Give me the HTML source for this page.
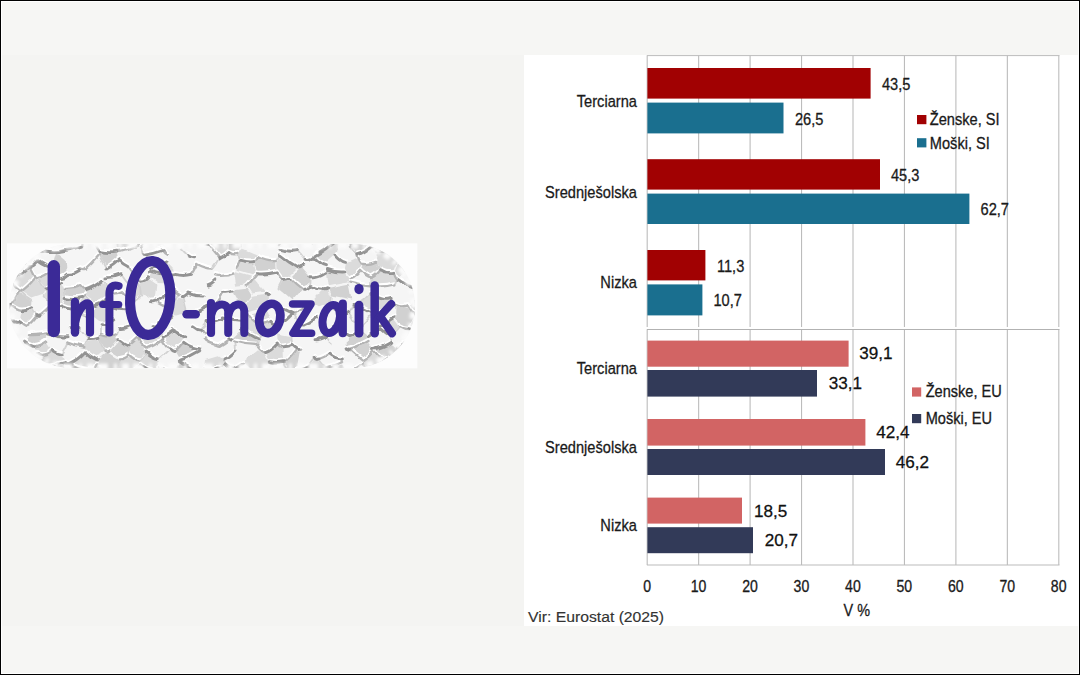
<!DOCTYPE html>
<html lang="sl"><head><meta charset="utf-8"><title>InfO-mozaik</title>
<style>html,body{margin:0;padding:0;background:#f6f6f4;overflow:hidden}body{width:1080px;height:675px;font-family:"Liberation Sans",sans-serif}svg{display:block;font-family:"Liberation Sans",sans-serif}</style></head><body>
<svg width="1080" height="675" viewBox="0 0 1080 675">
<defs>
<clipPath id="pill"><rect x="9.5" y="244.0" width="405.5" height="124.0" rx="62.0" ry="62.0"/></clipPath>
<filter id="rough" x="-2%" y="-6%" width="104%" height="112%" color-interpolation-filters="sRGB">
<feTurbulence type="fractalNoise" baseFrequency="0.055 0.085" numOctaves="2" seed="5" result="n"/>
<feDisplacementMap in="SourceGraphic" in2="n" scale="6" xChannelSelector="R" yChannelSelector="G"/>
<feGaussianBlur stdDeviation="0.75"/>
</filter>
<filter id="rim" x="-5%" y="-10%" width="110%" height="120%"><feGaussianBlur stdDeviation="1.6"/></filter>
<filter id="soft2" x="-5%" y="-10%" width="110%" height="120%"><feGaussianBlur stdDeviation="0.45"/></filter>
</defs>
<rect x="0" y="0" width="1080" height="675" fill="#000"/>
<rect x="1" y="1" width="1078" height="673" fill="#fff"/>
<rect x="2" y="2" width="1076" height="671" fill="#f6f6f4"/>
<rect x="2" y="55" width="1076" height="571" fill="#f4f4f2"/>
<rect x="524" y="55" width="555" height="571" fill="#fff"/>
<g id="chart">
<line x1="647.20" y1="55.5" x2="647.20" y2="327" stroke="#bcbcbc" stroke-width="1.1"/>
<line x1="647.20" y1="329.5" x2="647.20" y2="565" stroke="#bcbcbc" stroke-width="1.1"/>
<line x1="698.65" y1="55.5" x2="698.65" y2="327" stroke="#bcbcbc" stroke-width="1.1"/>
<line x1="698.65" y1="329.5" x2="698.65" y2="565" stroke="#bcbcbc" stroke-width="1.1"/>
<line x1="750.10" y1="55.5" x2="750.10" y2="327" stroke="#bcbcbc" stroke-width="1.1"/>
<line x1="750.10" y1="329.5" x2="750.10" y2="565" stroke="#bcbcbc" stroke-width="1.1"/>
<line x1="801.55" y1="55.5" x2="801.55" y2="327" stroke="#bcbcbc" stroke-width="1.1"/>
<line x1="801.55" y1="329.5" x2="801.55" y2="565" stroke="#bcbcbc" stroke-width="1.1"/>
<line x1="853.00" y1="55.5" x2="853.00" y2="327" stroke="#bcbcbc" stroke-width="1.1"/>
<line x1="853.00" y1="329.5" x2="853.00" y2="565" stroke="#bcbcbc" stroke-width="1.1"/>
<line x1="904.45" y1="55.5" x2="904.45" y2="327" stroke="#bcbcbc" stroke-width="1.1"/>
<line x1="904.45" y1="329.5" x2="904.45" y2="565" stroke="#bcbcbc" stroke-width="1.1"/>
<line x1="955.90" y1="55.5" x2="955.90" y2="327" stroke="#bcbcbc" stroke-width="1.1"/>
<line x1="955.90" y1="329.5" x2="955.90" y2="565" stroke="#bcbcbc" stroke-width="1.1"/>
<line x1="1007.35" y1="55.5" x2="1007.35" y2="327" stroke="#bcbcbc" stroke-width="1.1"/>
<line x1="1007.35" y1="329.5" x2="1007.35" y2="565" stroke="#bcbcbc" stroke-width="1.1"/>
<line x1="1058.80" y1="55.5" x2="1058.80" y2="327" stroke="#bcbcbc" stroke-width="1.1"/>
<line x1="1058.80" y1="329.5" x2="1058.80" y2="565" stroke="#bcbcbc" stroke-width="1.1"/>
<line x1="646.90" y1="55.6" x2="1059.50" y2="55.6" stroke="#bcbcbc" stroke-width="1"/>
<line x1="646.90" y1="329.5" x2="1059.50" y2="329.5" stroke="#b2b2b2" stroke-width="1.1"/>
<line x1="646.90" y1="565" x2="1059.50" y2="565" stroke="#bcbcbc" stroke-width="1.2"/>
<rect x="647.40" y="68.0" width="223.20" height="30.60" fill="#a10102"/>
<rect x="647.40" y="102.6" width="136.10" height="30.80" fill="#1a6f8f"/>
<rect x="647.40" y="159.2" width="232.60" height="30.40" fill="#a10102"/>
<rect x="647.40" y="193.6" width="322.00" height="30.40" fill="#1a6f8f"/>
<rect x="647.40" y="250.0" width="58.00" height="30.40" fill="#a10102"/>
<rect x="647.40" y="284.4" width="55.00" height="31.00" fill="#1a6f8f"/>
<rect x="647.40" y="340.6" width="201.20" height="26.10" fill="#d26464"/>
<rect x="647.40" y="370.0" width="169.60" height="26.60" fill="#323a58"/>
<rect x="647.40" y="419.0" width="218.00" height="26.60" fill="#d26464"/>
<rect x="647.40" y="449.0" width="237.60" height="26.00" fill="#323a58"/>
<rect x="647.40" y="497.6" width="94.60" height="26.00" fill="#d26464"/>
<rect x="647.40" y="527.2" width="105.60" height="26.00" fill="#323a58"/>
<text transform="translate(881.90 90.00) scale(0.865 1)" font-size="16.9" text-anchor="start" fill="#1a1a1a" stroke="#1a1a1a" stroke-width="0.3" >43,5</text>
<text transform="translate(794.90 124.60) scale(0.865 1)" font-size="16.9" text-anchor="start" fill="#1a1a1a" stroke="#1a1a1a" stroke-width="0.3" >26,5</text>
<text transform="translate(890.90 181.00) scale(0.865 1)" font-size="16.9" text-anchor="start" fill="#1a1a1a" stroke="#1a1a1a" stroke-width="0.3" >45,3</text>
<text transform="translate(980.50 215.40) scale(0.865 1)" font-size="16.9" text-anchor="start" fill="#1a1a1a" stroke="#1a1a1a" stroke-width="0.3" >62,7</text>
<text transform="translate(716.90 272.00) scale(0.865 1)" font-size="16.9" text-anchor="start" fill="#1a1a1a" stroke="#1a1a1a" stroke-width="0.3" >11,3</text>
<text transform="translate(713.40 306.40) scale(0.865 1)" font-size="16.9" text-anchor="start" fill="#1a1a1a" stroke="#1a1a1a" stroke-width="0.3" >10,7</text>
<text transform="translate(859.30 359.40) scale(1.097 1)" font-size="15.6" text-anchor="start" fill="#111" stroke="#111" stroke-width="0.25" >39,1</text>
<text transform="translate(828.70 389.40) scale(1.097 1)" font-size="15.6" text-anchor="start" fill="#111" stroke="#111" stroke-width="0.25" >33,1</text>
<text transform="translate(876.30 438.40) scale(1.097 1)" font-size="15.6" text-anchor="start" fill="#111" stroke="#111" stroke-width="0.25" >42,4</text>
<text transform="translate(895.70 468.00) scale(1.097 1)" font-size="15.6" text-anchor="start" fill="#111" stroke="#111" stroke-width="0.25" >46,2</text>
<text transform="translate(754.10 516.60) scale(1.097 1)" font-size="15.6" text-anchor="start" fill="#111" stroke="#111" stroke-width="0.25" >18,5</text>
<text transform="translate(764.70 546.00) scale(1.097 1)" font-size="15.6" text-anchor="start" fill="#111" stroke="#111" stroke-width="0.25" >20,7</text>
<text transform="translate(636.90 107.00) scale(0.865 1)" font-size="16.9" text-anchor="end" fill="#1a1a1a" stroke="#1a1a1a" stroke-width="0.3" >Terciarna</text>
<text transform="translate(636.90 198.00) scale(0.865 1)" font-size="16.9" text-anchor="end" fill="#1a1a1a" stroke="#1a1a1a" stroke-width="0.3" >Srednješolska</text>
<text transform="translate(636.90 288.40) scale(0.865 1)" font-size="16.9" text-anchor="end" fill="#1a1a1a" stroke="#1a1a1a" stroke-width="0.3" >Nizka</text>
<text transform="translate(636.90 374.40) scale(0.865 1)" font-size="16.9" text-anchor="end" fill="#1a1a1a" stroke="#1a1a1a" stroke-width="0.3" >Terciarna</text>
<text transform="translate(636.90 452.60) scale(0.865 1)" font-size="16.9" text-anchor="end" fill="#1a1a1a" stroke="#1a1a1a" stroke-width="0.3" >Srednješolska</text>
<text transform="translate(636.90 531.40) scale(0.865 1)" font-size="16.9" text-anchor="end" fill="#1a1a1a" stroke="#1a1a1a" stroke-width="0.3" >Nizka</text>
<text transform="translate(647.10 592.00) scale(0.87 1)" font-size="16.2" text-anchor="middle" fill="#1a1a1a" stroke="#1a1a1a" stroke-width="0.3" >0</text>
<text transform="translate(698.55 592.00) scale(0.87 1)" font-size="16.2" text-anchor="middle" fill="#1a1a1a" stroke="#1a1a1a" stroke-width="0.3" >10</text>
<text transform="translate(750.00 592.00) scale(0.87 1)" font-size="16.2" text-anchor="middle" fill="#1a1a1a" stroke="#1a1a1a" stroke-width="0.3" >20</text>
<text transform="translate(801.45 592.00) scale(0.87 1)" font-size="16.2" text-anchor="middle" fill="#1a1a1a" stroke="#1a1a1a" stroke-width="0.3" >30</text>
<text transform="translate(852.90 592.00) scale(0.87 1)" font-size="16.2" text-anchor="middle" fill="#1a1a1a" stroke="#1a1a1a" stroke-width="0.3" >40</text>
<text transform="translate(904.35 592.00) scale(0.87 1)" font-size="16.2" text-anchor="middle" fill="#1a1a1a" stroke="#1a1a1a" stroke-width="0.3" >50</text>
<text transform="translate(955.80 592.00) scale(0.87 1)" font-size="16.2" text-anchor="middle" fill="#1a1a1a" stroke="#1a1a1a" stroke-width="0.3" >60</text>
<text transform="translate(1007.25 592.00) scale(0.87 1)" font-size="16.2" text-anchor="middle" fill="#1a1a1a" stroke="#1a1a1a" stroke-width="0.3" >70</text>
<text transform="translate(1058.70 592.00) scale(0.87 1)" font-size="16.2" text-anchor="middle" fill="#1a1a1a" stroke="#1a1a1a" stroke-width="0.3" >80</text>
<text transform="translate(856.80 616.30) scale(0.85 1)" font-size="17.0" text-anchor="middle" fill="#1a1a1a" stroke="#1a1a1a" stroke-width="0.3" >V %</text>
<rect x="917" y="115" width="9.4" height="9.2" fill="#a10102"/>
<text transform="translate(929.80 125.40) scale(0.865 1)" font-size="16.9" text-anchor="start" fill="#1a1a1a" stroke="#1a1a1a" stroke-width="0.3" >Ženske, SI</text>
<rect x="917" y="138.2" width="9.4" height="9.2" fill="#1a6f8f"/>
<text transform="translate(929.80 149.00) scale(0.865 1)" font-size="16.9" text-anchor="start" fill="#1a1a1a" stroke="#1a1a1a" stroke-width="0.3" >Moški, SI</text>
<rect x="912" y="387.4" width="9.2" height="9.2" fill="#d26464"/>
<text transform="translate(925.70 397.30) scale(0.91 1)" font-size="16.0" text-anchor="start" fill="#1a1a1a" stroke="#1a1a1a" stroke-width="0.3" >Ženske, EU</text>
<rect x="912" y="414" width="9.2" height="9.2" fill="#323a58"/>
<text transform="translate(925.70 423.90) scale(0.91 1)" font-size="16.0" text-anchor="start" fill="#1a1a1a" stroke="#1a1a1a" stroke-width="0.3" >Moški, EU</text>
<text transform="translate(528.00 622.40) scale(1.05 1)" font-size="15.0" text-anchor="start" fill="#333" stroke="#333" stroke-width="0.15" >Vir: Eurostat (2025)</text>
</g>
<g id="logo">
<rect x="7" y="243.3" width="410.3" height="125" fill="#fdfdfd"/>
<g clip-path="url(#pill)"><g filter="url(#rough)">
<rect x="3.5" y="238.0" width="417.5" height="136.0" fill="#f5f5f5"/>
<path d="M18.9 242.5 L10.6 233.4 L14.1 229.4 L30.2 230.4 L30.8 235.6ZM68.8 230.0 L57.2 240.7 L50.1 234.5 L48.9 223.7 L68.6 229.7ZM100.0 234.5 L85.5 221.9 L75.0 231.5 L83.5 242.4 L94.7 241.7ZM165.1 227.6 L154.2 230.4 L154.0 234.9 L164.1 240.0 L171.4 234.3ZM310.1 228.0 L315.0 227.0 L325.5 231.9 L313.8 240.6 L307.9 238.3ZM337.2 238.8 L334.7 232.2 L340.1 223.7 L357.6 229.1 L360.3 235.3 L349.6 243.5 L338.4 240.2ZM18.8 250.0 L19.2 244.8 L31.1 237.9 L36.1 241.9 L37.3 248.3 L19.8 251.9ZM118.3 250.7 L118.1 250.6 L117.1 240.1 L132.4 236.8 L137.2 245.1ZM209.2 243.9 L219.8 255.3 L226.6 251.2 L226.9 240.2 L215.3 238.1ZM388.0 239.9 L387.1 248.8 L377.3 250.1 L372.1 245.9 L371.6 241.0 L373.1 239.5ZM424.6 235.2 L428.0 235.5 L430.4 241.0 L424.2 251.4 L406.2 245.4 L406.1 239.5ZM5.1 265.8 L4.2 265.5 L-6.6 250.1 L-6.5 249.8 L-6.2 249.6 L17.7 251.9 L18.7 253.8 L18.6 257.3ZM257.2 254.7 L242.4 248.5 L238.8 254.3 L240.5 260.2 L254.4 261.4 L257.5 256.9ZM315.1 256.4 L326.5 263.1 L335.6 255.1 L337.5 243.8 L336.3 242.4 L315.6 255.2ZM377.8 253.2 L376.5 261.4 L381.0 267.7 L392.4 269.8 L397.4 257.0 L397.4 256.6 L387.6 251.9ZM173.8 273.4 L173.0 267.9 L168.1 262.8 L151.3 268.6 L151.3 271.0 L173.6 273.7ZM236.5 268.3 L240.5 263.0 L254.3 264.2 L256.2 273.1 L254.4 275.6 L253.9 275.8 L236.4 270.5ZM276.2 262.7 L276.7 271.4 L282.2 277.4 L289.5 276.4 L297.7 268.2 L279.7 257.8ZM344.4 271.0 L345.9 263.4 L356.4 258.5 L360.3 264.3 L359.5 269.4 L349.8 276.6ZM398.2 259.1 L418.5 267.0 L418.4 267.5 L398.2 277.5 L397.0 277.5 L393.2 271.9ZM21.1 288.2 L19.6 288.2 L12.6 282.0 L12.2 279.8 L28.8 269.4 L28.9 269.5 L34.1 277.9ZM45.3 287.9 L60.1 281.7 L60.3 278.0 L52.7 271.2 L37.4 278.4ZM173.4 275.5 L151.0 272.7 L149.1 277.1 L157.1 282.9 L171.0 283.7ZM236.1 272.2 L253.6 277.5 L246.5 284.4 L236.1 285.7 L234.4 274.5ZM348.6 282.2 L328.7 286.2 L327.1 273.6 L328.0 271.1 L343.8 273.2 L349.1 278.8 L348.9 281.7ZM371.3 284.0 L393.8 283.2 L396.0 279.1 L392.3 273.5 L380.9 271.4 L372.2 277.7ZM44.5 289.7 L36.6 280.2 L34.7 279.8 L21.7 290.1 L32.1 297.4 L43.2 293.7ZM45.5 291.0 L60.4 284.8 L64.3 290.1 L64.8 296.9 L61.7 303.8 L52.3 302.5 L44.3 295.0ZM103.9 282.8 L101.5 282.6 L85.1 290.3 L85.1 295.2 L95.4 302.9 L107.0 298.0 L108.5 293.0ZM121.9 291.4 L132.2 300.0 L140.7 293.8 L139.2 285.4 L129.3 286.1ZM151.2 299.2 L154.8 298.6 L156.5 285.0 L148.4 279.3 L141.6 282.8 L139.9 284.9 L141.5 293.4ZM266.0 291.8 L254.8 278.7 L254.3 278.9 L247.2 285.8 L251.8 293.5ZM81.8 299.3 L84.5 298.1 L94.8 305.8 L90.5 313.6 L86.5 314.9 L77.4 308.4ZM183.1 298.8 L187.1 312.6 L176.0 315.5 L172.2 314.8 L167.3 307.0 L179.8 297.7ZM266.2 295.0 L269.1 296.2 L269.0 301.8 L266.0 305.8 L248.7 311.0 L245.3 306.3 L252.1 296.7ZM329.5 296.0 L327.6 290.6 L322.7 291.0 L312.2 302.2 L319.3 306.6 L328.6 303.2ZM357.4 303.5 L370.5 294.1 L377.7 298.4 L371.6 310.4ZM372.8 312.2 L375.4 313.3 L394.4 305.6 L394.7 305.1 L391.6 300.0 L378.3 299.5 L372.3 311.4ZM22.4 312.0 L31.4 309.5 L36.5 315.7 L26.7 324.1 L20.8 321.0ZM107.3 301.9 L113.5 308.9 L112.4 318.3 L100.2 321.5 L91.4 314.7 L95.7 306.9ZM270.3 320.3 L265.9 308.6 L248.7 313.9 L248.6 314.6 L258.4 322.5ZM257.8 336.4 L258.3 335.8 L258.0 324.8 L248.2 316.9 L243.2 322.7 L242.0 328.0ZM275.7 325.7 L270.8 322.6 L258.8 324.9 L259.1 335.9 L275.2 330.3ZM381.0 325.9 L394.4 319.5 L399.8 326.4 L389.8 334.2 L380.5 328.3ZM418.6 316.3 L427.8 323.3 L425.5 329.3 L410.4 327.4 L415.2 316.5ZM139.0 337.5 L147.3 346.1 L161.7 339.0 L161.7 337.6 L155.0 327.9 L153.1 327.5ZM184.1 337.0 L173.7 332.9 L162.7 338.6 L162.8 340.1 L170.1 347.7 L174.9 349.4 L183.2 342.1ZM292.0 343.5 L290.7 337.1 L277.2 334.4 L277.6 343.3 L282.9 345.5ZM-2.2 359.2 L-7.1 360.5 L-14.2 350.3 L-8.2 342.3 L8.2 350.8ZM47.0 342.7 L51.7 350.4 L42.8 354.4 L37.3 352.5 L34.6 347.0ZM97.2 357.6 L104.8 350.9 L97.6 339.4 L88.4 340.4 L84.6 346.8 L85.4 351.1ZM138.0 339.9 L138.3 339.9 L146.5 348.5 L145.8 351.2 L139.6 358.1 L129.1 353.1 L128.7 346.2ZM282.5 348.1 L277.1 345.9 L266.1 352.7 L269.6 360.8 L282.9 360.9ZM406.5 360.7 L408.1 361.2 L418.5 349.9 L408.7 342.2 L396.9 348.0 L397.2 352.7ZM14.5 351.3 L9.0 352.2 L-1.4 360.6 L12.6 371.7 L20.4 361.4ZM43.2 356.2 L52.2 352.2 L60.7 355.3 L64.0 362.5 L42.3 365.7ZM92.9 368.1 L96.7 363.9 L96.8 360.5 L85.1 354.0 L70.5 363.4 L72.4 364.2ZM128.7 356.8 L139.2 361.7 L139.7 365.1 L133.6 372.0 L129.1 374.2 L118.8 373.6 L119.5 360.0ZM140.7 364.4 L140.2 360.9 L146.4 354.0 L158.7 359.6 L158.3 366.0 L152.2 369.1ZM217.7 356.3 L205.1 360.0 L203.8 367.0 L219.0 367.7 L223.8 364.3 L222.7 359.7ZM258.0 350.2 L265.2 354.4 L268.7 362.5 L263.2 370.7 L256.0 372.9 L244.2 363.1 L244.3 361.1ZM373.5 353.8 L382.6 362.0 L383.1 369.6 L373.5 373.6 L363.3 363.6 L363.9 361.3ZM433.3 363.0 L430.5 367.3 L410.6 366.0 L408.9 362.8 L419.3 351.5 L423.0 351.2ZM-2.0 362.8 L-6.9 364.1 L-9.2 367.5 L-5.8 375.8 L-3.7 376.7 L11.8 374.9 L12.0 374.0ZM36.1 372.8 L22.6 393.7 L12.9 375.6 L13.1 374.7 L20.9 364.4 L26.0 365.6ZM38.1 371.8 L50.8 378.8 L63.6 369.1 L64.4 365.1 L64.1 364.7 L42.4 367.9ZM92.9 369.9 L72.3 366.1 L82.2 376.9 L92.0 374.2ZM93.7 370.4 L97.4 366.2 L116.9 375.4 L113.9 380.1 L93.7 376.7 L92.8 374.7ZM218.6 370.2 L219.4 379.8 L203.1 380.8 L200.5 376.2 L200.6 372.8 L203.4 369.4ZM325.6 367.8 L325.2 376.3 L320.4 377.4 L312.3 375.5 L308.5 367.3 L315.4 359.6 L318.9 361.1ZM253.7 1047.2 L250.8 456.8 L256.2 447.5 L263.4 445.3 L273.5 453.0 L276.9 906.7 L260.7 1390.8Z" fill="#dbdbdb"/>
<path d="M36.7 238.5 L49.1 234.0 L48.0 223.1 L41.1 213.6 L31.1 229.3 L31.7 234.5ZM262.9 240.0 L244.4 231.2 L246.1 226.4 L268.8 228.8 L268.4 238.6ZM227.7 240.1 L241.0 236.2 L241.7 246.4 L238.2 252.1 L227.4 251.1ZM361.1 237.3 L370.8 241.1 L371.3 245.9 L357.0 252.8 L350.5 245.5ZM117.5 253.0 L117.4 253.0 L100.4 252.7 L100.4 254.6 L107.0 266.5 L119.1 259.1ZM53.1 267.9 L52.9 266.6 L57.3 253.9 L57.8 253.5 L59.1 253.7 L65.8 259.2 L66.5 271.9 L60.7 274.6ZM275.2 262.0 L275.7 270.7 L257.0 272.1 L255.2 263.2 L258.3 258.8ZM371.5 275.7 L380.2 269.5 L375.7 263.2 L361.1 264.6 L360.4 269.6ZM298.6 270.2 L302.7 267.9 L310.4 277.1 L309.7 284.4 L303.9 287.2 L302.2 287.1 L290.5 278.4ZM81.4 296.5 L84.0 295.3 L84.1 290.4 L80.1 287.4 L65.3 289.7 L65.8 296.5ZM251.2 295.4 L244.5 305.1 L241.4 303.7 L233.5 291.9 L236.1 289.0 L246.5 287.8ZM282.5 281.1 L289.8 280.0 L301.5 288.8 L292.6 299.3 L279.1 287.5ZM351.2 298.4 L330.2 294.6 L328.3 289.2 L328.6 288.8 L348.6 284.8ZM10.8 304.3 L10.9 303.5 L19.5 292.6 L21.0 292.6 L31.4 300.0 L31.1 306.4 L22.1 308.9ZM81.0 298.6 L65.4 298.6 L62.3 305.5 L62.6 305.9 L76.6 307.8ZM418.5 313.0 L426.5 308.5 L422.1 299.1 L417.4 297.0 L408.4 305.4 L415.2 313.2ZM395.5 307.6 L395.7 307.1 L407.6 307.5 L414.4 315.3 L409.6 326.2 L409.0 326.6 L400.5 324.3 L395.1 317.5ZM16.3 344.2 L14.2 347.5 L8.6 348.3 L-7.8 339.8 L-8.6 334.3 L-6.2 330.9 L10.4 335.8ZM46.5 333.6 L28.5 334.9 L25.2 340.4 L34.4 344.8 L46.7 340.5 L47.0 334.5ZM117.0 335.7 L117.5 339.9 L109.2 349.4 L105.6 349.7 L98.4 338.1 L100.4 335.6ZM233.1 338.5 L241.7 330.2 L257.5 338.6 L256.7 343.7 L234.8 340.9ZM359.7 330.3 L367.9 336.8 L368.0 340.5 L349.9 346.9 L347.6 346.7 L348.0 336.3 L359.4 330.2ZM118.1 341.6 L109.8 351.1 L119.1 356.7 L128.2 353.5 L127.8 346.6ZM183.9 344.0 L175.7 351.3 L179.7 358.3 L199.2 350.7 L199.2 349.0ZM373.1 349.6 L368.4 342.9 L350.3 349.3 L363.5 358.6 L373.1 351.0ZM374.1 349.7 L390.5 343.9 L395.9 347.6 L396.2 352.3 L383.2 359.3 L374.1 351.1ZM97.8 363.9 L117.3 373.1 L117.7 372.9 L118.5 359.2 L109.2 353.6 L105.6 353.9 L98.0 360.6ZM297.5 350.6 L299.8 350.9 L297.0 366.9 L291.7 369.3 L284.9 362.6ZM384.0 369.6 L383.5 362.0 L396.5 355.0 L405.8 363.0 L386.0 370.5ZM172.9 372.8 L158.9 369.3 L152.8 372.4 L155.7 390.1 L157.0 392.7 L173.0 375.3ZM199.4 372.4 L179.7 364.0 L174.1 371.6 L174.1 374.1 L183.0 380.1 L199.4 375.8ZM342.0 364.5 L348.1 372.4 L347.9 374.9 L340.7 386.9 L326.3 377.3 L326.7 368.7Z" fill="#d1d1d1"/>
<path d="M409.9 328.6Q417.8 331.8 425.8 331.0M396.8 352.8Q389.9 359.2 383.1 361.5M385.7 372.1Q384.7 374.3 383.7 371.0M396.4 346.8Q402.6 346.0 408.8 339.6M373.5 376.0Q378.6 375.3 383.7 371.0M243.5 363.3Q238.4 367.2 233.2 369.2M255.9 375.6Q259.7 376.8 263.5 372.8M308.0 366.8Q302.5 369.8 297.1 368.6M297.1 368.6Q294.3 370.9 291.5 371.6M436.0 284.1Q426.8 288.4 417.6 288.2M397.9 279.4Q407.3 286.7 416.8 289.1M371.2 240.2Q366.1 240.7 361.0 235.5M371.8 246.3Q364.2 252.6 356.7 254.9M37.1 260.9Q44.8 267.0 52.6 267.6M39.2 250.5Q48.2 251.9 57.2 251.6M152.3 370.8Q146.3 369.8 140.2 364.9M159.2 358.9Q152.7 358.1 146.3 352.0M158.8 366.9Q155.6 371.0 152.3 370.8M179.4 361.8Q189.8 369.2 200.2 372.3M170.0 349.3Q172.5 351.5 175.0 351.5M158.8 366.9Q166.1 371.2 173.5 371.3M380.7 269.7Q386.7 273.7 392.7 272.3M397.9 255.9Q392.8 254.7 387.6 249.9M282.8 346.7Q287.6 346.4 292.4 344.1M292.4 344.1Q295.0 346.9 297.7 348.2M269.3 362.6Q276.3 364.2 283.3 362.7M265.6 352.5Q271.4 350.7 277.2 344.0M315.2 357.2Q317.1 360.4 318.9 359.0M417.4 294.8Q419.8 297.4 422.3 297.4M426.9 309.1Q422.7 313.0 418.5 314.8M415.0 314.9Q416.8 317.6 418.5 314.8M336.8 239.8Q325.8 249.8 314.9 255.8M326.4 265.7Q320.4 263.8 314.4 257.4M345.5 262.4Q340.7 261.6 336.0 255.7M59.1 251.5Q70.4 250.0 81.7 246.1M31.3 235.9Q25.1 241.1 18.8 244.5M19.3 257.8Q12.2 265.1 5.1 268.4M390.8 342.2Q382.1 347.7 373.5 349.4M342.3 358.9Q335.9 359.3 329.5 353.9M347.1 348.8Q348.3 351.6 349.5 349.0M333.7 326.1Q340.6 332.5 347.6 335.8M314.0 340.7Q320.2 340.7 326.3 336.9M317.5 317.3Q311.3 322.3 305.1 324.9M300.0 322.5Q302.6 325.7 305.1 324.9M310.1 285.8Q316.4 288.9 322.6 289.2M310.1 285.8Q307.0 289.6 303.9 289.3M314.4 257.4Q309.8 261.4 305.1 260.4M313.7 242.4Q310.6 243.6 307.6 239.5M155.1 325.9Q154.1 327.2 153.1 325.4M194.6 257.7Q191.4 257.9 188.2 255.6M159.7 321.5Q165.8 321.8 171.9 316.5M162.2 338.0Q168.0 335.3 173.8 330.8M144.5 254.2Q153.8 252.9 163.1 249.5M168.2 261.2Q159.4 265.8 150.6 268.3M1.9 287.2Q7.0 287.1 12.1 282.7M11.7 279.9Q20.4 275.4 29.1 266.9M37.1 260.9Q33.2 266.1 29.3 267.0M20.8 361.9Q23.5 365.0 26.2 363.4M61.1 354.5Q56.7 353.7 52.2 350.6M64.6 363.5Q53.2 367.1 41.8 367.5M344.0 271.9Q335.7 272.5 327.4 269.4M322.6 289.2Q325.2 290.5 327.8 288.7M310.8 276.7Q318.7 277.6 326.5 272.4M389.8 336.0Q384.9 333.2 380.0 328.6M394.7 317.7Q387.6 323.1 380.5 325.7M380.0 328.6Q374.2 333.5 368.4 336.5M395.0 305.4Q385.0 311.2 375.0 314.9M302.7 265.2Q300.6 268.6 298.4 268.0M292.1 314.4Q280.8 309.8 269.5 301.8M289.8 278.2Q286.0 279.8 282.2 279.5M219.8 257.7Q223.4 256.4 227.0 252.6M204.3 244.2Q206.5 245.3 208.6 243.4M155.2 301.1Q153.3 302.2 151.4 301.8M141.3 281.2Q144.9 281.1 148.5 276.8M128.2 345.8Q123.1 343.8 118.0 339.6M188.1 293.1Q185.8 295.6 183.4 296.6M191.4 274.4Q182.9 276.5 174.3 274.4M156.9 301.5Q165.1 296.9 173.3 289.4M150.5 271.3Q162.3 275.4 174.0 274.8M164.3 241.6Q158.9 239.1 153.6 235.2M88.1 338.5Q93.0 338.9 97.9 337.3M85.0 351.9Q91.2 357.6 97.4 360.1M65.0 363.9Q67.3 365.8 69.7 363.7M85.0 351.9Q77.4 359.9 69.7 363.7M-1.2 295.3Q4.6 301.7 10.4 304.1M100.0 323.8Q106.4 324.4 112.9 319.9M114.0 308.1Q122.1 310.8 130.2 309.2M128.9 326.3Q124.5 329.2 120.2 328.5M66.9 274.2Q73.2 274.8 79.6 270.3M79.0 326.6Q75.2 328.5 71.3 327.8M203.2 368.1Q211.2 371.6 219.2 369.0M179.3 360.2Q189.5 357.1 199.8 350.7M233.2 369.2Q228.7 369.1 224.3 364.7M392.1 298.3Q385.1 300.8 378.1 297.6M371.7 312.6Q364.2 309.3 356.7 303.9M356.7 303.9Q355.4 305.5 354.0 304.2M347.6 335.8Q353.5 334.3 359.5 328.2M339.7 315.5Q344.2 315.4 348.8 312.4M375.0 314.9Q373.6 315.8 372.3 313.6M256.7 273.8Q266.5 274.8 276.3 272.0M269.6 294.8Q268.1 296.8 266.6 293.3M268.9 240.0Q266.0 243.8 263.1 241.8M240.1 261.2Q247.4 263.3 254.7 262.7M297.3 250.5Q289.1 252.4 281.0 249.4M298.4 268.0Q289.0 262.9 279.5 255.0M270.9 321.3Q273.5 324.8 276.1 325.2M292.1 314.4Q284.1 322.1 276.1 325.2M242.8 321.5Q232.5 321.0 222.3 317.9M235.0 350.3Q229.0 357.1 223.0 359.0M206.3 285.0Q210.5 284.0 214.7 279.5M215.7 304.9Q212.7 307.8 209.7 304.7M188.1 293.1Q196.1 296.1 204.1 296.0M233.0 291.0Q228.3 292.9 223.6 292.1M207.5 306.5Q197.8 312.0 188.1 314.1M207.5 306.5Q208.6 306.8 209.7 304.7M207.1 322.5Q214.4 323.5 221.6 320.0M200.4 330.1Q197.0 329.8 193.6 326.8M199.8 348.6Q191.7 348.3 183.7 342.3M173.8 330.8Q179.2 334.7 184.7 335.9M99.9 251.7Q108.8 253.4 117.8 252.1M69.7 363.7Q70.7 366.8 71.7 364.7M84.4 289.8Q93.0 287.5 101.7 280.2M95.3 305.6Q101.4 303.7 107.5 299.4M66.9 274.2Q63.8 277.4 60.8 277.6M62.2 306.6Q69.6 310.4 76.9 308.9M65.2 297.5Q73.4 299.7 81.6 297.4M52.1 304.4Q57.0 308.0 61.9 306.1M24.5 341.0Q29.3 345.1 34.2 346.4M67.0 336.8Q57.2 337.6 47.5 333.6M39.6 316.1Q38.3 316.8 37.0 315.5M241.5 328.2Q249.8 334.7 258.2 338.6M230.0 337.9Q231.2 339.8 232.5 338.5M127.8 265.5Q123.7 263.7 119.6 259.7M106.9 269.0Q113.2 265.5 119.6 259.7M121.4 274.7Q113.7 277.9 105.9 277.9M60.6 282.3Q52.8 288.7 45.0 290.0M13.6 322.3Q17.0 324.6 20.4 322.1M31.6 307.7Q26.9 310.9 22.1 310.9M410.0 367.4Q420.5 370.7 431.0 369.0M396.8 352.8Q401.6 359.1 406.5 362.7M57.1 243.0Q63.2 237.7 69.3 229.5M274.1 382.4Q268.8 379.4 263.5 372.8M362.7 363.5Q355.6 369.1 348.6 372.0M409.3 329.1Q404.8 329.1 400.3 326.2M349.9 245.7Q355.5 241.7 361.0 235.5M140.2 364.9Q137.0 370.6 133.8 373.4M387.6 249.9Q382.4 252.9 377.3 251.5M396.6 279.4Q394.6 277.1 392.7 272.3M419.2 266.3Q408.6 264.2 398.0 256.3M360.7 263.6Q358.6 261.3 356.6 256.3M360.7 263.6Q368.3 265.1 376.0 261.9M405.4 239.1Q415.1 237.9 424.8 233.7M284.4 363.2Q291.0 357.8 297.7 348.2M300.1 348.6Q298.9 350.0 297.7 348.2M277.2 344.0Q280.0 347.9 282.8 346.7M326.0 367.4Q334.1 365.6 342.1 362.1M380.7 269.7Q376.1 275.6 371.6 277.5M359.9 269.9Q365.7 276.1 371.6 277.5M394.3 284.5Q382.5 287.9 370.6 285.5M407.9 305.3Q411.4 311.9 415.0 314.9M395.3 304.7Q401.6 307.9 407.9 305.3M170.0 349.3Q166.1 345.8 162.2 339.8M147.0 348.6Q154.6 345.7 162.2 339.8M10.1 233.2Q14.4 240.5 18.8 244.5M12.6 374.7Q5.3 370.0 -2.1 360.9M139.7 360.6Q134.2 360.1 128.6 354.4M119.0 358.4Q123.8 358.6 128.6 354.4M363.4 360.7Q356.4 355.5 349.5 349.0M363.4 360.7Q368.5 357.4 373.5 351.2M349.5 349.0Q359.0 346.9 368.5 341.0M383.1 361.5Q378.3 357.0 373.5 351.2M318.9 359.0Q324.2 357.3 329.5 353.9M293.9 314.4Q302.3 310.1 310.8 303.1M300.5 240.6Q304.0 242.2 307.6 239.5M300.5 240.6Q297.3 236.4 294.0 230.3M147.0 348.6Q142.6 344.9 138.3 337.9M194.6 234.8Q187.8 238.7 181.1 239.2M158.5 303.2Q162.7 306.0 166.8 306.8M155.1 325.9Q157.4 325.2 159.7 321.5M163.1 249.5Q165.5 253.1 167.8 253.9M19.3 257.8Q24.2 263.6 29.1 266.9M-6.7 328.6Q2.0 333.3 10.7 334.7M14.7 349.3Q15.8 347.9 16.9 345.3M10.7 334.7Q13.8 340.9 16.9 345.3M37.0 353.3Q39.9 356.9 42.8 355.6M22.6 398.5Q29.7 386.8 36.8 372.4M52.2 350.6Q47.5 355.6 42.8 355.6M359.9 269.9Q354.8 276.8 349.6 279.0M302.2 289.2Q296.0 284.6 289.8 278.2M265.6 352.5Q261.8 352.4 258.1 347.2M219.8 257.7Q214.2 251.7 208.6 243.4M215.1 236.2Q211.9 240.4 208.6 243.4M238.3 253.9Q232.7 255.2 227.0 252.6M134.8 316.4Q132.5 314.1 130.2 309.2M156.9 301.5Q157.7 303.5 158.5 303.2M128.2 345.8Q133.1 342.8 138.0 337.8M179.9 295.1Q176.6 293.5 173.3 289.4M197.1 264.9Q194.3 270.6 191.4 274.4M67.4 342.5Q75.8 346.2 84.2 346.6M105.5 351.8Q107.4 353.5 109.3 351.4M12.1 282.7Q15.8 288.3 19.4 290.4M19.4 290.4Q14.9 298.0 10.4 304.1M100.0 334.1Q108.7 336.6 117.4 334.3M86.6 316.9Q88.7 318.1 90.8 315.3M339.7 315.5Q334.3 310.5 328.9 304.4M349.4 282.6Q359.8 285.7 370.2 286.4M378.1 297.6Q374.4 295.8 370.6 292.3M246.8 285.8Q250.5 282.2 254.2 277.2M256.7 273.8Q255.7 276.1 254.8 277.0M282.2 279.5Q279.2 276.7 276.3 272.0M258.0 257.2Q266.9 261.9 275.8 261.1M254.7 262.7Q256.3 260.6 258.0 257.2M258.4 324.2Q264.6 324.4 270.9 321.3M248.1 314.3Q253.2 321.4 258.4 324.2M215.2 275.4Q224.6 277.1 234.0 273.4M197.1 264.9Q205.0 269.3 212.8 269.7M240.1 261.2Q238.0 265.7 236.0 267.9M223.6 292.1Q219.7 299.6 215.7 304.9M200.4 330.1Q202.3 334.1 204.2 335.2M218.2 345.7Q224.1 342.6 230.0 337.9M218.2 345.7Q211.5 344.3 204.8 339.4M175.0 351.5Q179.4 348.8 183.7 342.3M95.1 243.5Q97.5 249.0 99.9 251.7M82.0 378.2Q76.8 373.2 71.7 364.7M71.7 364.7Q82.5 369.6 93.3 369.5M97.2 364.2Q95.3 368.7 93.3 369.5M80.7 269.1Q83.1 270.8 85.4 269.5M99.9 254.2Q92.6 263.2 85.4 269.5M80.3 286.1Q82.4 288.8 84.4 289.8M80.3 286.1Q72.5 289.4 64.7 288.9M52.1 304.4Q45.9 311.3 39.6 316.1M84.4 295.9Q83.0 299.4 81.6 297.4M28.0 334.1Q37.4 334.5 46.9 332.5M34.2 346.4Q40.7 345.9 47.2 341.1M26.7 326.0Q31.8 322.6 37.0 315.5M257.4 345.0Q245.8 345.0 234.3 341.5M137.8 245.2Q127.9 251.1 117.9 252.2M153.6 235.2Q147.0 242.1 140.4 247.4M144.5 254.2Q143.7 255.5 142.8 253.0M141.3 281.2Q134.5 275.1 127.8 265.9M109.1 293.2Q115.2 294.7 121.3 291.5M132.2 302.2Q126.7 298.5 121.3 291.5M34.7 277.6Q27.8 286.0 21.0 290.5M34.7 277.6Q35.7 280.3 36.6 278.1M29.3 267.0Q32.0 272.7 34.7 277.6M52.8 269.2Q44.7 276.1 36.6 278.1M13.6 322.3Q8.7 319.0 3.9 314.4M22.1 310.9Q16.2 310.3 10.3 305.1M3.9 314.4Q7.1 310.8 10.3 305.1M26.7 326.0Q23.6 325.8 20.4 322.1" fill="none" stroke="#ffffff" stroke-width="3" stroke-linecap="round" transform="translate(0 -1.8)"/>
<path d="M410.0 367.4Q409.3 373.4 408.6 379.1M408.2 363.4Q413.7 358.0 419.2 349.3M408.2 363.4Q409.1 365.9 410.0 367.4M408.8 339.6Q414.0 345.7 419.2 349.3M396.4 346.8Q396.6 349.9 396.8 352.8M392.3 380.9Q389.0 377.1 385.7 372.1M308.0 366.8Q311.6 362.5 315.2 357.2M373.5 376.0Q368.1 371.8 362.7 363.5M390.8 342.2Q390.3 339.6 389.8 336.0M400.3 326.2Q395.1 333.1 389.8 336.0M424.9 257.6Q422.0 262.9 419.2 266.3M356.7 254.9Q353.3 251.1 349.9 245.7M57.2 251.6Q54.9 259.9 52.6 267.6M152.3 370.8Q153.9 382.1 155.4 393.0M146.3 352.0Q143.0 358.0 139.7 360.6M200.2 376.6Q200.2 374.4 200.2 372.3M170.0 349.3Q164.6 354.9 159.2 358.9M380.7 269.7Q378.3 266.4 376.0 261.9M371.8 246.3Q374.5 250.2 377.3 251.5M405.4 246.4Q401.7 252.4 397.9 255.9M291.5 371.6Q287.9 368.2 284.4 363.2M291.1 336.2Q291.7 340.3 292.4 344.1M318.9 359.0Q322.5 364.2 326.0 367.4M394.3 284.5Q395.4 283.1 396.6 279.4M371.6 277.5Q371.1 281.8 370.6 285.5M395.3 304.7Q393.7 302.0 392.1 298.3M428.2 323.5Q423.4 319.8 418.5 314.8M74.3 230.8Q78.8 238.4 83.2 244.4M18.8 244.5Q18.6 247.9 18.3 251.0M19.4 253.4Q19.4 255.6 19.3 257.8M8.9 350.4Q3.4 357.2 -2.1 360.9M12.6 374.7Q16.7 369.2 20.8 361.9M118.2 375.5Q118.6 367.0 119.0 358.4M362.7 363.5Q363.1 362.8 363.4 360.7M342.1 362.1Q342.2 360.7 342.3 358.9M326.3 336.9Q329.8 333.0 333.2 326.4M326.3 336.9Q329.2 341.7 332.0 343.3M293.9 314.4Q296.9 320.3 300.0 322.5M297.3 250.5Q301.2 256.1 305.1 260.4M162.2 338.0Q158.7 333.2 155.1 325.9M181.7 249.2Q184.9 253.0 188.2 255.6M64.1 369.0Q68.3 380.7 72.5 391.0M41.8 367.5Q42.3 361.7 42.8 355.6M310.1 285.8Q310.5 281.4 310.8 276.7M326.5 272.4Q326.9 271.5 327.4 269.4M380.5 325.7Q377.8 321.7 375.0 314.9M278.5 287.5Q280.3 284.1 282.2 279.5M242.1 246.7Q241.7 240.4 241.3 233.9M132.2 302.2Q136.7 299.6 141.2 294.5M139.5 283.9Q140.3 289.7 141.2 294.5M128.6 354.4Q128.4 350.2 128.2 345.8M134.8 316.4Q131.8 322.3 128.9 326.3M166.8 306.8Q173.3 302.4 179.9 295.1M187.6 313.8Q185.5 305.5 183.4 296.6M150.5 271.3Q150.6 269.9 150.6 268.3M181.1 239.2Q178.4 237.7 175.8 234.7M95.1 243.5Q97.8 240.2 100.6 234.5M105.5 351.8Q101.7 345.8 97.9 337.3M84.2 346.6Q86.2 343.1 88.1 338.5M61.1 354.5Q64.2 349.3 67.4 342.5M100.0 334.1Q100.0 329.0 100.0 323.8M117.4 334.3Q118.8 331.8 120.2 328.5M88.1 338.5Q83.6 333.4 79.0 326.6M97.9 337.3Q98.9 336.4 100.0 334.1M224.3 364.7Q221.7 367.9 219.2 369.0M333.7 326.1Q336.7 322.0 339.7 315.5M328.9 304.4Q329.3 300.1 329.8 295.5M359.5 328.2Q354.2 321.8 348.8 312.4M359.8 328.3Q366.1 322.2 372.3 313.6M348.8 312.4Q351.4 309.3 354.0 304.2M368.4 336.5Q364.1 333.3 359.8 328.3M370.6 292.3Q363.7 299.6 356.7 303.9M233.0 291.0Q237.2 298.9 241.4 305.7M269.5 301.8Q267.9 304.7 266.3 306.8M244.6 307.5Q246.4 311.7 248.2 313.3M279.5 255.0Q277.6 259.2 275.8 261.1M240.1 261.2Q239.2 258.3 238.3 253.9M269.4 227.8Q269.1 234.0 268.9 240.0M288.4 231.3Q283.6 239.2 278.7 244.4M258.7 337.8Q258.5 331.0 258.4 324.2M224.3 364.7Q223.7 362.4 223.0 359.0M212.8 269.7Q216.3 265.7 219.7 258.6M207.1 322.5Q203.7 327.8 200.4 330.1M199.8 350.7Q199.8 349.7 199.8 348.6M114.0 308.1Q110.8 304.8 107.5 299.4M60.8 277.6Q56.8 275.4 52.8 269.2M86.6 316.9Q81.7 314.9 76.9 308.9M64.7 288.9Q65.0 293.3 65.2 297.5M84.4 295.9Q89.9 302.4 95.3 305.6M258.2 338.6Q257.8 342.0 257.4 345.0M235.0 350.3Q234.7 346.1 234.3 341.5M140.4 247.4Q141.6 250.5 142.8 253.0M99.9 254.2Q103.4 262.6 106.9 269.0M109.1 293.2Q106.6 287.2 104.2 280.5M121.4 274.7Q125.3 280.5 129.1 284.8M36.6 278.1Q40.8 284.7 45.0 290.0M32.0 299.6Q26.5 296.9 21.0 290.5M52.1 304.4Q47.9 301.2 43.7 295.0M31.6 307.7Q34.3 313.1 37.0 315.5" fill="none" stroke="#d2d2d2" stroke-width="1.8" stroke-linecap="round"/>
<path d="M410.0 367.4Q420.5 370.7 431.0 369.0M396.8 352.8Q401.6 359.1 406.5 362.7M57.1 243.0Q63.2 237.7 69.3 229.5M274.1 382.4Q268.8 379.4 263.5 372.8M362.7 363.5Q355.6 369.1 348.6 372.0M409.3 329.1Q404.8 329.1 400.3 326.2M349.9 245.7Q355.5 241.7 361.0 235.5M140.2 364.9Q137.0 370.6 133.8 373.4M387.6 249.9Q382.4 252.9 377.3 251.5M396.6 279.4Q394.6 277.1 392.7 272.3M419.2 266.3Q408.6 264.2 398.0 256.3M360.7 263.6Q358.6 261.3 356.6 256.3M360.7 263.6Q368.3 265.1 376.0 261.9M405.4 239.1Q415.1 237.9 424.8 233.7M284.4 363.2Q291.0 357.8 297.7 348.2M300.1 348.6Q298.9 350.0 297.7 348.2M277.2 344.0Q280.0 347.9 282.8 346.7M326.0 367.4Q334.1 365.6 342.1 362.1M380.7 269.7Q376.1 275.6 371.6 277.5M359.9 269.9Q365.7 276.1 371.6 277.5M394.3 284.5Q382.5 287.9 370.6 285.5M407.9 305.3Q411.4 311.9 415.0 314.9M395.3 304.7Q401.6 307.9 407.9 305.3M170.0 349.3Q166.1 345.8 162.2 339.8M147.0 348.6Q154.6 345.7 162.2 339.8M10.1 233.2Q14.4 240.5 18.8 244.5M12.6 374.7Q5.3 370.0 -2.1 360.9M139.7 360.6Q134.2 360.1 128.6 354.4M119.0 358.4Q123.8 358.6 128.6 354.4M363.4 360.7Q356.4 355.5 349.5 349.0M363.4 360.7Q368.5 357.4 373.5 351.2M349.5 349.0Q359.0 346.9 368.5 341.0M383.1 361.5Q378.3 357.0 373.5 351.2M318.9 359.0Q324.2 357.3 329.5 353.9M293.9 314.4Q302.3 310.1 310.8 303.1M300.5 240.6Q304.0 242.2 307.6 239.5M300.5 240.6Q297.3 236.4 294.0 230.3M147.0 348.6Q142.6 344.9 138.3 337.9M194.6 234.8Q187.8 238.7 181.1 239.2M158.5 303.2Q162.7 306.0 166.8 306.8M155.1 325.9Q157.4 325.2 159.7 321.5M163.1 249.5Q165.5 253.1 167.8 253.9M19.3 257.8Q24.2 263.6 29.1 266.9M-6.7 328.6Q2.0 333.3 10.7 334.7M14.7 349.3Q15.8 347.9 16.9 345.3M10.7 334.7Q13.8 340.9 16.9 345.3M37.0 353.3Q39.9 356.9 42.8 355.6M22.6 398.5Q29.7 386.8 36.8 372.4M52.2 350.6Q47.5 355.6 42.8 355.6M359.9 269.9Q354.8 276.8 349.6 279.0M302.2 289.2Q296.0 284.6 289.8 278.2M265.6 352.5Q261.8 352.4 258.1 347.2M219.8 257.7Q214.2 251.7 208.6 243.4M215.1 236.2Q211.9 240.4 208.6 243.4M238.3 253.9Q232.7 255.2 227.0 252.6M134.8 316.4Q132.5 314.1 130.2 309.2M156.9 301.5Q157.7 303.5 158.5 303.2M128.2 345.8Q133.1 342.8 138.0 337.8M179.9 295.1Q176.6 293.5 173.3 289.4M197.1 264.9Q194.3 270.6 191.4 274.4M67.4 342.5Q75.8 346.2 84.2 346.6M105.5 351.8Q107.4 353.5 109.3 351.4M12.1 282.7Q15.8 288.3 19.4 290.4M19.4 290.4Q14.9 298.0 10.4 304.1M100.0 334.1Q108.7 336.6 117.4 334.3M86.6 316.9Q88.7 318.1 90.8 315.3M339.7 315.5Q334.3 310.5 328.9 304.4M349.4 282.6Q359.8 285.7 370.2 286.4M378.1 297.6Q374.4 295.8 370.6 292.3M246.8 285.8Q250.5 282.2 254.2 277.2M256.7 273.8Q255.7 276.1 254.8 277.0M282.2 279.5Q279.2 276.7 276.3 272.0M258.0 257.2Q266.9 261.9 275.8 261.1M254.7 262.7Q256.3 260.6 258.0 257.2M258.4 324.2Q264.6 324.4 270.9 321.3M248.1 314.3Q253.2 321.4 258.4 324.2M215.2 275.4Q224.6 277.1 234.0 273.4M197.1 264.9Q205.0 269.3 212.8 269.7M240.1 261.2Q238.0 265.7 236.0 267.9M223.6 292.1Q219.7 299.6 215.7 304.9M200.4 330.1Q202.3 334.1 204.2 335.2M218.2 345.7Q224.1 342.6 230.0 337.9M218.2 345.7Q211.5 344.3 204.8 339.4M175.0 351.5Q179.4 348.8 183.7 342.3M95.1 243.5Q97.5 249.0 99.9 251.7M82.0 378.2Q76.8 373.2 71.7 364.7M71.7 364.7Q82.5 369.6 93.3 369.5M97.2 364.2Q95.3 368.7 93.3 369.5M80.7 269.1Q83.1 270.8 85.4 269.5M99.9 254.2Q92.6 263.2 85.4 269.5M80.3 286.1Q82.4 288.8 84.4 289.8M80.3 286.1Q72.5 289.4 64.7 288.9M52.1 304.4Q45.9 311.3 39.6 316.1M84.4 295.9Q83.0 299.4 81.6 297.4M28.0 334.1Q37.4 334.5 46.9 332.5M34.2 346.4Q40.7 345.9 47.2 341.1M26.7 326.0Q31.8 322.6 37.0 315.5M257.4 345.0Q245.8 345.0 234.3 341.5M137.8 245.2Q127.9 251.1 117.9 252.2M153.6 235.2Q147.0 242.1 140.4 247.4M144.5 254.2Q143.7 255.5 142.8 253.0M141.3 281.2Q134.5 275.1 127.8 265.9M109.1 293.2Q115.2 294.7 121.3 291.5M132.2 302.2Q126.7 298.5 121.3 291.5M34.7 277.6Q27.8 286.0 21.0 290.5M34.7 277.6Q35.7 280.3 36.6 278.1M29.3 267.0Q32.0 272.7 34.7 277.6M52.8 269.2Q44.7 276.1 36.6 278.1M13.6 322.3Q8.7 319.0 3.9 314.4M22.1 310.9Q16.2 310.3 10.3 305.1M3.9 314.4Q7.1 310.8 10.3 305.1M26.7 326.0Q23.6 325.8 20.4 322.1" fill="none" stroke="#b4b4b4" stroke-width="2.3" stroke-linecap="round"/>
<path d="M409.9 328.6Q417.8 331.8 425.8 331.0M396.8 352.8Q389.9 359.2 383.1 361.5M385.7 372.1Q384.7 374.3 383.7 371.0M396.4 346.8Q402.6 346.0 408.8 339.6M373.5 376.0Q378.6 375.3 383.7 371.0M243.5 363.3Q238.4 367.2 233.2 369.2M255.9 375.6Q259.7 376.8 263.5 372.8M308.0 366.8Q302.5 369.8 297.1 368.6M297.1 368.6Q294.3 370.9 291.5 371.6M436.0 284.1Q426.8 288.4 417.6 288.2M397.9 279.4Q407.3 286.7 416.8 289.1M371.2 240.2Q366.1 240.7 361.0 235.5M371.8 246.3Q364.2 252.6 356.7 254.9M37.1 260.9Q44.8 267.0 52.6 267.6M39.2 250.5Q48.2 251.9 57.2 251.6M152.3 370.8Q146.3 369.8 140.2 364.9M159.2 358.9Q152.7 358.1 146.3 352.0M158.8 366.9Q155.6 371.0 152.3 370.8M179.4 361.8Q189.8 369.2 200.2 372.3M170.0 349.3Q172.5 351.5 175.0 351.5M158.8 366.9Q166.1 371.2 173.5 371.3M380.7 269.7Q386.7 273.7 392.7 272.3M397.9 255.9Q392.8 254.7 387.6 249.9M282.8 346.7Q287.6 346.4 292.4 344.1M292.4 344.1Q295.0 346.9 297.7 348.2M269.3 362.6Q276.3 364.2 283.3 362.7M265.6 352.5Q271.4 350.7 277.2 344.0M315.2 357.2Q317.1 360.4 318.9 359.0M417.4 294.8Q419.8 297.4 422.3 297.4M426.9 309.1Q422.7 313.0 418.5 314.8M415.0 314.9Q416.8 317.6 418.5 314.8M336.8 239.8Q325.8 249.8 314.9 255.8M326.4 265.7Q320.4 263.8 314.4 257.4M345.5 262.4Q340.7 261.6 336.0 255.7M59.1 251.5Q70.4 250.0 81.7 246.1M31.3 235.9Q25.1 241.1 18.8 244.5M19.3 257.8Q12.2 265.1 5.1 268.4M390.8 342.2Q382.1 347.7 373.5 349.4M342.3 358.9Q335.9 359.3 329.5 353.9M347.1 348.8Q348.3 351.6 349.5 349.0M333.7 326.1Q340.6 332.5 347.6 335.8M314.0 340.7Q320.2 340.7 326.3 336.9M317.5 317.3Q311.3 322.3 305.1 324.9M300.0 322.5Q302.6 325.7 305.1 324.9M310.1 285.8Q316.4 288.9 322.6 289.2M310.1 285.8Q307.0 289.6 303.9 289.3M314.4 257.4Q309.8 261.4 305.1 260.4M313.7 242.4Q310.6 243.6 307.6 239.5M155.1 325.9Q154.1 327.2 153.1 325.4M194.6 257.7Q191.4 257.9 188.2 255.6M159.7 321.5Q165.8 321.8 171.9 316.5M162.2 338.0Q168.0 335.3 173.8 330.8M144.5 254.2Q153.8 252.9 163.1 249.5M168.2 261.2Q159.4 265.8 150.6 268.3M1.9 287.2Q7.0 287.1 12.1 282.7M11.7 279.9Q20.4 275.4 29.1 266.9M37.1 260.9Q33.2 266.1 29.3 267.0M20.8 361.9Q23.5 365.0 26.2 363.4M61.1 354.5Q56.7 353.7 52.2 350.6M64.6 363.5Q53.2 367.1 41.8 367.5M344.0 271.9Q335.7 272.5 327.4 269.4M322.6 289.2Q325.2 290.5 327.8 288.7M310.8 276.7Q318.7 277.6 326.5 272.4M389.8 336.0Q384.9 333.2 380.0 328.6M394.7 317.7Q387.6 323.1 380.5 325.7M380.0 328.6Q374.2 333.5 368.4 336.5M395.0 305.4Q385.0 311.2 375.0 314.9M302.7 265.2Q300.6 268.6 298.4 268.0M292.1 314.4Q280.8 309.8 269.5 301.8M289.8 278.2Q286.0 279.8 282.2 279.5M219.8 257.7Q223.4 256.4 227.0 252.6M204.3 244.2Q206.5 245.3 208.6 243.4M155.2 301.1Q153.3 302.2 151.4 301.8M141.3 281.2Q144.9 281.1 148.5 276.8M128.2 345.8Q123.1 343.8 118.0 339.6M188.1 293.1Q185.8 295.6 183.4 296.6M191.4 274.4Q182.9 276.5 174.3 274.4M156.9 301.5Q165.1 296.9 173.3 289.4M150.5 271.3Q162.3 275.4 174.0 274.8M164.3 241.6Q158.9 239.1 153.6 235.2M88.1 338.5Q93.0 338.9 97.9 337.3M85.0 351.9Q91.2 357.6 97.4 360.1M65.0 363.9Q67.3 365.8 69.7 363.7M85.0 351.9Q77.4 359.9 69.7 363.7M-1.2 295.3Q4.6 301.7 10.4 304.1M100.0 323.8Q106.4 324.4 112.9 319.9M114.0 308.1Q122.1 310.8 130.2 309.2M128.9 326.3Q124.5 329.2 120.2 328.5M66.9 274.2Q73.2 274.8 79.6 270.3M79.0 326.6Q75.2 328.5 71.3 327.8M203.2 368.1Q211.2 371.6 219.2 369.0M179.3 360.2Q189.5 357.1 199.8 350.7M233.2 369.2Q228.7 369.1 224.3 364.7M392.1 298.3Q385.1 300.8 378.1 297.6M371.7 312.6Q364.2 309.3 356.7 303.9M356.7 303.9Q355.4 305.5 354.0 304.2M347.6 335.8Q353.5 334.3 359.5 328.2M339.7 315.5Q344.2 315.4 348.8 312.4M375.0 314.9Q373.6 315.8 372.3 313.6M256.7 273.8Q266.5 274.8 276.3 272.0M269.6 294.8Q268.1 296.8 266.6 293.3M268.9 240.0Q266.0 243.8 263.1 241.8M240.1 261.2Q247.4 263.3 254.7 262.7M297.3 250.5Q289.1 252.4 281.0 249.4M298.4 268.0Q289.0 262.9 279.5 255.0M270.9 321.3Q273.5 324.8 276.1 325.2M292.1 314.4Q284.1 322.1 276.1 325.2M242.8 321.5Q232.5 321.0 222.3 317.9M235.0 350.3Q229.0 357.1 223.0 359.0M206.3 285.0Q210.5 284.0 214.7 279.5M215.7 304.9Q212.7 307.8 209.7 304.7M188.1 293.1Q196.1 296.1 204.1 296.0M233.0 291.0Q228.3 292.9 223.6 292.1M207.5 306.5Q197.8 312.0 188.1 314.1M207.5 306.5Q208.6 306.8 209.7 304.7M207.1 322.5Q214.4 323.5 221.6 320.0M200.4 330.1Q197.0 329.8 193.6 326.8M199.8 348.6Q191.7 348.3 183.7 342.3M173.8 330.8Q179.2 334.7 184.7 335.9M99.9 251.7Q108.8 253.4 117.8 252.1M69.7 363.7Q70.7 366.8 71.7 364.7M84.4 289.8Q93.0 287.5 101.7 280.2M95.3 305.6Q101.4 303.7 107.5 299.4M66.9 274.2Q63.8 277.4 60.8 277.6M62.2 306.6Q69.6 310.4 76.9 308.9M65.2 297.5Q73.4 299.7 81.6 297.4M52.1 304.4Q57.0 308.0 61.9 306.1M24.5 341.0Q29.3 345.1 34.2 346.4M67.0 336.8Q57.2 337.6 47.5 333.6M39.6 316.1Q38.3 316.8 37.0 315.5M241.5 328.2Q249.8 334.7 258.2 338.6M230.0 337.9Q231.2 339.8 232.5 338.5M127.8 265.5Q123.7 263.7 119.6 259.7M106.9 269.0Q113.2 265.5 119.6 259.7M121.4 274.7Q113.7 277.9 105.9 277.9M60.6 282.3Q52.8 288.7 45.0 290.0M13.6 322.3Q17.0 324.6 20.4 322.1M31.6 307.7Q26.9 310.9 22.1 310.9" fill="none" stroke="#939393" stroke-width="2.9" stroke-linecap="round"/>
</g>
<rect x="9.5" y="244.0" width="405.5" height="124.0" rx="62.0" ry="62.0" fill="none" stroke="#fbfbfb" stroke-width="9" stroke-dasharray="7 5 3 6 10 4" filter="url(#rim)"/>
</g>
<g fill="none" stroke="#3a2c97" stroke-linecap="round" stroke-linejoin="round" filter="url(#soft2)">
<path d="M53.8 266.3 L53.8 331" stroke-width="12.4"/>
<path d="M75 302 L75 332.6" stroke-width="8.4"/>
<path d="M75.5 321 C 78 309, 85 302.5, 88 303.5 C 90 304.5, 90 308, 90 312 L90 332.6" stroke-width="8.2"/>
<path d="M109.4 332.6 L109.4 294 C109.4 286.5, 113 284.2, 118.6 286" stroke-width="8"/>
<path d="M102.6 304.6 L118.8 304.6" stroke-width="7"/>
<ellipse cx="150.2" cy="298" rx="20" ry="37" stroke-width="10.2" transform="rotate(4 150.2 298)"/>
<path d="M186.6 314.2 L195.7 314.2" stroke-width="8.5"/>
<path d="M211 303 L211 333" stroke-width="8.2"/>
<path d="M211.5 314 C 214 303.5, 227 300.5, 228.2 311 L228.2 333" stroke-width="8"/>
<path d="M228.7 314 C 231 303.5, 243.4 300.5, 244.3 311 L244.3 333" stroke-width="8"/>
<ellipse cx="269.8" cy="318.4" rx="10.3" ry="14.9" stroke-width="8.6" transform="rotate(14 269.8 318.4)"/>
<path d="M292.6 304 L311 304 L293 333.2 L311.6 333.2" stroke-width="7.6"/>
<ellipse cx="331.2" cy="319" rx="8.3" ry="14.2" stroke-width="8" transform="rotate(14 331.2 319)"/>
<path d="M342.8 303.5 L342.8 333.2" stroke-width="8.2"/>
<path d="M359 305.2 L359 333.2" stroke-width="8.8"/>
<path d="M359 288.6 L359 289.6" stroke-width="9.2"/>
<path d="M374.7 285.6 L374.7 333.2" stroke-width="8.5"/>
<path d="M377.5 319 L391.3 303.8" stroke-width="7.8"/>
<path d="M381 317.5 L392 333.4" stroke-width="8"/>
</g>
</g>
</svg></body></html>
